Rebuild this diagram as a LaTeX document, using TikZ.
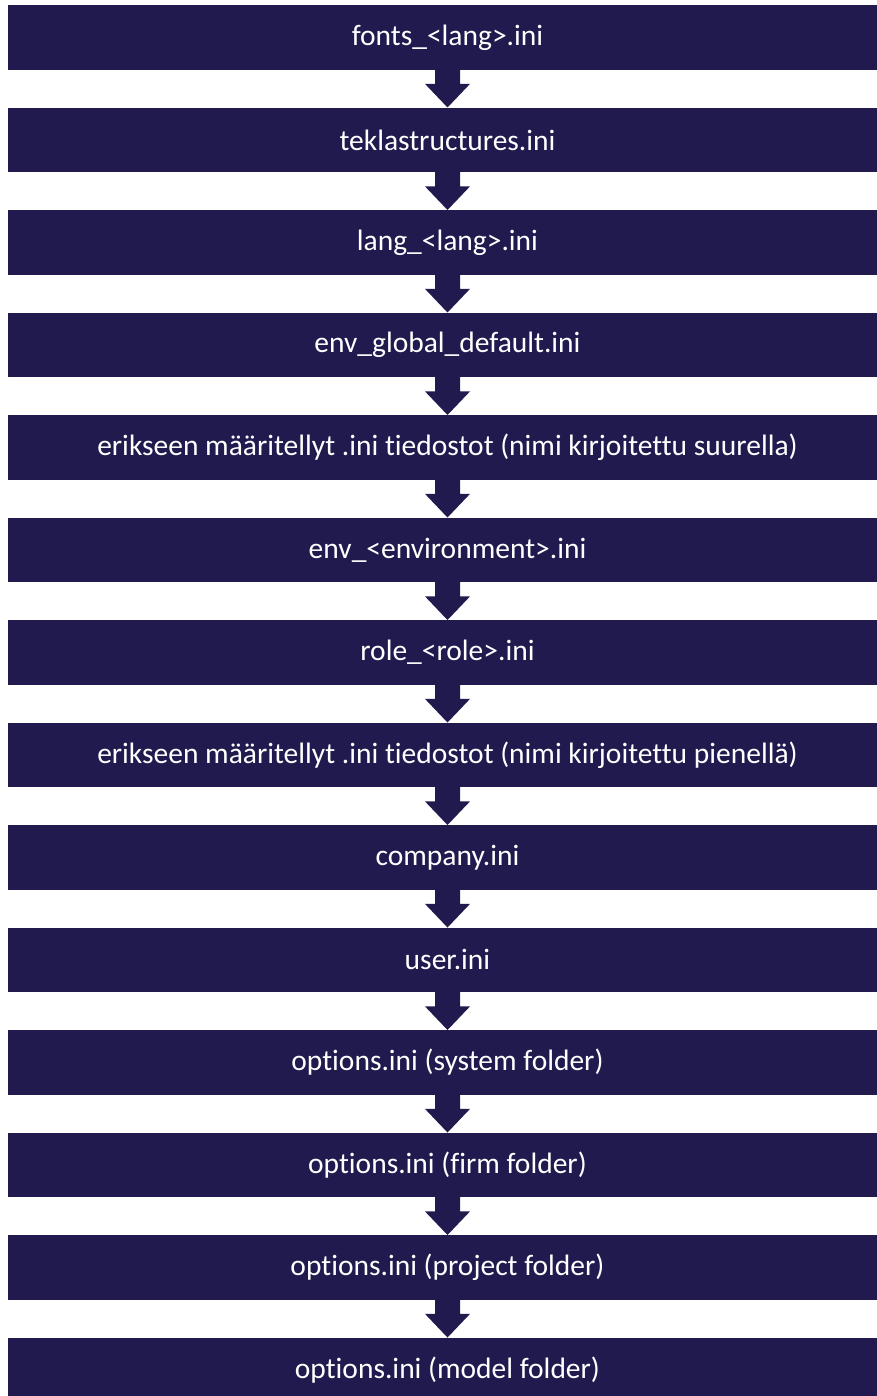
\documentclass[tikz,border=0pt]{standalone}
\usepackage{fontspec}
\setmainfont{Carlito}[Ligatures={NoCommon}]
\usetikzlibrary{calc}
\definecolor{navy}{HTML}{201A4F}
\tikzset{
  stepbox/.style={fill=navy, text=white, inner sep=0pt, minimum width=879pt, minimum height=64.5pt, anchor=north, font=\fontsize{29.5}{34}\selectfont},
}
\newcommand{\flowarrow}[2]{%
  \fill[navy] ($(#1.south)+(-12.5,1)$) -- ($(#1.south)+(12.5,1)$) -- ($(#1.south)+(12.5,-14)$) -- ($(#1.south)+(22.5,-14)$) -- (#2.north) -- ($(#1.south)+(-22.5,-14)$) -- ($(#1.south)+(-12.5,-14)$) -- cycle;}
\begin{document}
\begin{tikzpicture}[x=1pt,y=1pt]
\useasboundingbox (0,0) rectangle (877,-1396);
\clip (0,0) rectangle (877,-1396);
\foreach \t [count=\i from 0] in {fonts\_<lang>.ini, teklastructures.ini, lang\_<lang>.ini, env\_global\_default.ini, erikseen määritellyt .ini tiedostot (nimi kirjoitettu suurella), env\_<environment>.ini, role\_<role>.ini, erikseen määritellyt .ini tiedostot (nimi kirjoitettu pienellä), company.ini, user.ini, options.ini (system folder), options.ini (firm folder), options.ini (project folder), options.ini (model folder)}{
  \node[stepbox] (b\i) at (447.5,{-5-102.5*\i}) {\t};
}
\foreach \i [evaluate=\i as \j using int(\i+1)] in {0,...,12}{
  \flowarrow{b\i}{b\j}
}
\end{tikzpicture}
\end{document}
